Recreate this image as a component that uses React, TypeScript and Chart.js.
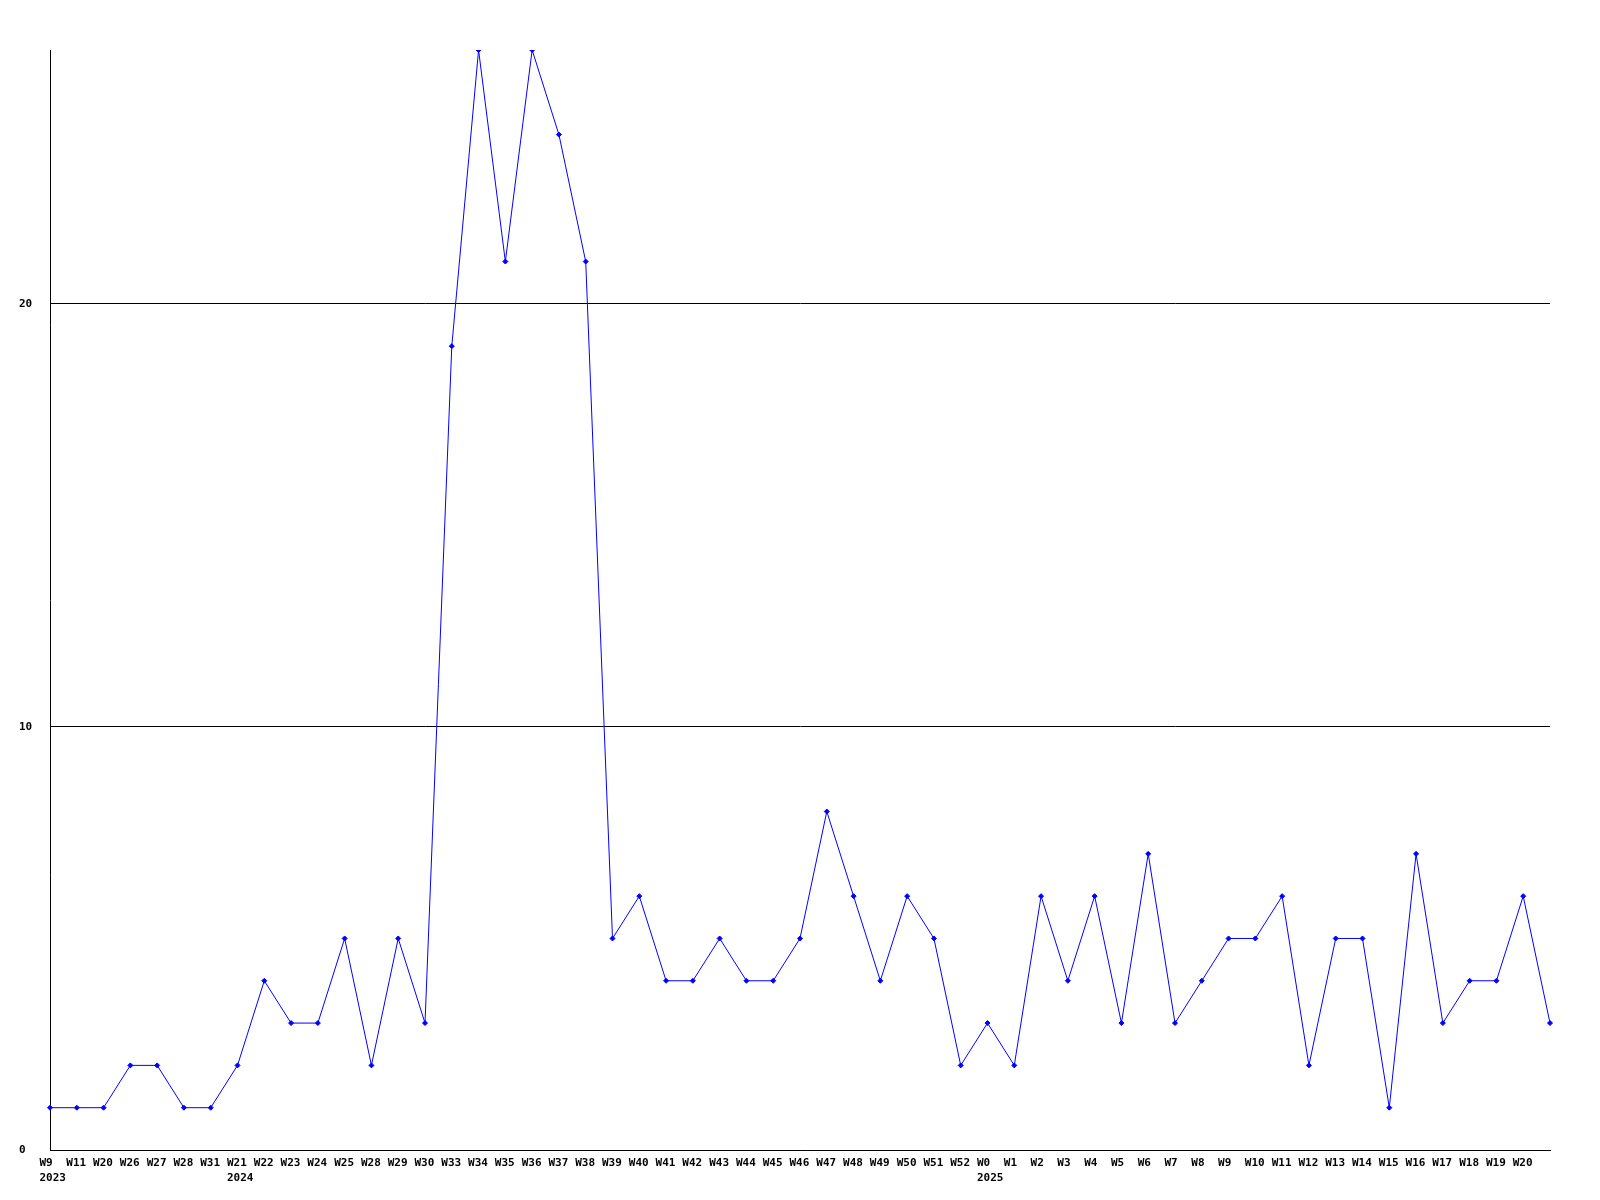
import React, { useEffect, useRef } from "react";
import { Chart, registerables } from "chart.js";

Chart.register(...registerables);

const weeks: string[] = [
  "W9", "W11", "W20", "W26", "W27", "W28", "W31",
  "W21", "W22", "W23", "W24", "W25", "W28", "W29", "W30", "W33", "W34", "W35", "W36", "W37", "W38",
  "W39", "W40", "W41", "W42", "W43", "W44", "W45", "W46", "W47", "W48", "W49", "W50", "W51", "W52",
  "W0", "W1", "W2", "W3", "W4", "W5", "W6", "W7", "W8", "W9", "W10", "W11", "W12", "W13", "W14",
  "W15", "W16", "W17", "W18", "W19", "W20", "W21",
];

// year shown under the first week of each year (by index)
const yearMarks: { index: number; year: string }[] = [
  { index: 0, year: "2023" },
  { index: 7, year: "2024" },
  { index: 35, year: "2025" },
];

const values: number[] = [
  1, 1, 1, 2, 2, 1, 1,
  2, 4, 3, 3, 5, 2, 5, 3, 19, 26, 21, 26, 24, 21,
  5, 6, 4, 4, 5, 4, 4, 5, 8, 6, 4, 6, 5, 2,
  3, 2, 6, 4, 6, 3, 7, 3, 4, 5, 5, 6, 2, 5, 5,
  1, 7, 3, 4, 4, 6, 3,
];

const yMax = 26;
const yStep = 10;

const FONT = { family: "'DejaVu Sans Mono', monospace", size: 11, weight: "bold" as const, lineHeight: 1.32 };

export default function App() {
  const ref = useRef<HTMLCanvasElement | null>(null);

  useEffect(() => {
    if (!ref.current) return;
    const labels = weeks.map((w, i) => {
      const m = yearMarks.find((y) => y.index === i);
      return m ? [w, m.year] : w;
    });
    const chart = new Chart(ref.current, {
      type: "line",
      data: {
        labels,
        datasets: [
          {
            data: values,
            borderColor: "#0000ff",
            backgroundColor: "#0000ff",
            borderWidth: 1,
            pointStyle: "rectRot",
            pointRadius: 2.5,
            pointBorderWidth: 1,
            pointBackgroundColor: "#0000ff",
            pointBorderColor: "#0000ff",
            tension: 0,
            fill: false,
          },
        ],
      },
      options: {
        animation: false,
        responsive: false,
        maintainAspectRatio: false,
        layout: { padding: { left: 19, right: 50, top: 50, bottom: 0 } },
        plugins: { legend: { display: false }, tooltip: { enabled: false }, title: { display: false } },
        scales: {
          x: {
            type: "category",
            offset: false,
            grid: { display: false, drawTicks: false },
            border: { display: true, color: "#000000", width: 1 },
            afterFit: (s: any) => {
              s.height = 50;
            },
            ticks: {
              autoSkip: false,
              maxRotation: 0,
              minRotation: 0,
              align: "start",
              labelOffset: -10.5,
              padding: 6,
              color: "#000000",
              font: FONT,
              callback: function (this: any, _v: any, i: number) {
                if (i === weeks.length - 1) return "";
                return labels[i] as any;
              },
            },
          },
          y: {
            type: "linear",
            min: 0,
            max: yMax,
            grid: { color: "#000000", lineWidth: 1, drawTicks: false },
            border: { display: true, color: "#000000", width: 1 },
            afterFit: (s: any) => {
              s.width = 31;
            },
            ticks: {
              stepSize: yStep,
              includeBounds: false,
              crossAlign: "far",
              padding: 0,
              color: "#000000",
              font: FONT,
            },
          },
        },
      },
    });
    return () => chart.destroy();
  }, []);

  return (
    <div style={{ position: "fixed", left: 0, top: 0, width: 1600, height: 1200, background: "#ffffff" }}>
      <canvas ref={ref} width={1600} height={1200} style={{ display: "block", width: 1600, height: 1200 }} />
    </div>
  );
}
